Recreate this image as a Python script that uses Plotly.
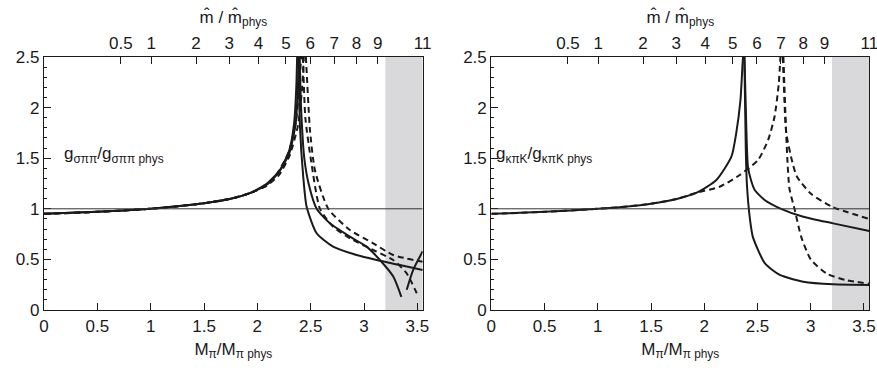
import plotly.graph_objects as go

# ---------------- data ----------------
# common low-mass part (both panels)
common_x = [0.0, 0.5, 1.0, 1.25, 1.5, 1.75, 1.93]
sigma_common_y = [0.95, 0.97, 1.0, 1.025, 1.055, 1.1, 1.155]
kappa_common_y = [0.95, 0.97, 1.0, 1.02, 1.05, 1.1, 1.16]

# left panel: g_sigma pi pi
sA_left_x = [2.09, 2.21, 2.30, 2.345, 2.365, 2.375]
sA_left_y = [1.25, 1.38, 1.58, 1.85, 2.2, 2.6]
sA_right_x = [2.385, 2.40, 2.43, 2.462, 2.556, 2.71, 2.93, 3.118, 3.336, 3.55]
sA_right_y = [2.6, 1.8, 1.32, 1.02, 0.758, 0.626, 0.543, 0.494, 0.445, 0.395]

sB_left_x = [2.09, 2.20, 2.30, 2.36, 2.38, 2.39]
sB_left_y = [1.24, 1.36, 1.55, 1.85, 2.2, 2.6]
sB_right_x = [2.395, 2.41, 2.44, 2.48, 2.556, 2.68, 2.868, 3.024, 3.149, 3.274, 3.35]
sB_right_y = [2.6, 2.0, 1.5, 1.25, 1.0, 0.857, 0.725, 0.626, 0.494, 0.33, 0.13]

sC_x = [3.40, 3.46, 3.55]
sC_y = [0.2, 0.395, 0.58]

dA_left_x = [2.09, 2.18, 2.29, 2.36, 2.395, 2.415]
dA_left_y = [1.235, 1.34, 1.55, 1.85, 2.24, 2.6]
dA_right_x = [2.425, 2.45, 2.50, 2.587, 2.71, 2.868, 3.086, 3.274, 3.40, 3.51]
dA_right_y = [2.6, 1.9, 1.5, 1.0, 0.823, 0.708, 0.593, 0.494, 0.362, 0.13]

dB_left_x = [2.09, 2.20, 2.30, 2.38, 2.42, 2.44]
dB_left_y = [1.23, 1.33, 1.52, 1.82, 2.2, 2.6]
dB_right_x = [2.45, 2.48, 2.493, 2.54, 2.665, 2.868, 3.086, 3.274, 3.55]
dB_right_y = [2.6, 2.0, 1.78, 1.38, 1.0, 0.79, 0.659, 0.543, 0.477]

# right panel: g_kappa pi K
ks_left_x = [2.114, 2.255, 2.30, 2.34, 2.358, 2.37]
ks_left_y = [1.285, 1.515, 1.746, 2.075, 2.4, 2.6]
ks_low_x = [2.375, 2.39, 2.40, 2.43, 2.457, 2.57, 2.71, 2.93, 3.21, 3.55]
ks_low_y = [2.6, 1.6, 1.25, 0.89, 0.72, 0.46, 0.346, 0.28, 0.254, 0.247]
ks_up_x = [2.375, 2.395, 2.41, 2.44, 2.474, 2.567, 2.71, 2.93, 3.21, 3.55]
ks_up_y = [2.6, 1.8, 1.42, 1.28, 1.186, 1.087, 1.005, 0.922, 0.856, 0.78]

kd_left_x = [2.145, 2.333, 2.505, 2.60, 2.66, 2.70, 2.72]
kd_left_y = [1.218, 1.334, 1.482, 1.68, 1.91, 2.24, 2.6]
kd_up_x = [2.735, 2.745, 2.77, 2.83, 2.87, 3.0, 3.2, 3.55]
kd_up_y = [2.6, 2.3, 1.75, 1.45, 1.32, 1.15, 1.02, 0.9]
kd_low_x = [2.74, 2.76, 2.78, 2.80, 2.85, 2.91, 3.0, 3.15, 3.33, 3.55]
kd_low_y = [2.6, 2.0, 1.5, 1.2, 0.99, 0.725, 0.5, 0.36, 0.296, 0.26]

# axes
x_ticks = [0, 0.5, 1, 1.5, 2, 2.5, 3, 3.5]
y_ticks = [0, 0.5, 1, 1.5, 2, 2.5]
top_tick_pos = [0.72, 1.005, 1.425, 1.737, 2.01, 2.268, 2.495, 2.72, 2.93, 3.128, 3.55]
top_tick_text = ["0.5", "1", "2", "3", "4", "5", "6", "7", "8", "9", "11"]
shade_from = 3.2
x_max = 3.55
y_max = 2.5

FONT = "Liberation Sans, Arial, sans-serif"
INK = "#1a1a1a"
FS = 17
DASH = "6px,4px"

fig = go.Figure()

def add(xs, ys, dash, xa, ya):
    fig.add_trace(go.Scatter(x=xs, y=ys, mode="lines", xaxis=xa, yaxis=ya,
                             line=dict(color=INK, width=2, dash=dash, shape="spline", smoothing=0.6),
                             showlegend=False, hoverinfo="skip", connectgaps=False))

# left panel
for lx, ly, rx, ry, dash in [
    (sA_left_x, sA_left_y, sA_right_x, sA_right_y, "solid"),
    (sB_left_x, sB_left_y, sB_right_x, sB_right_y, "solid"),
    (dA_left_x, dA_left_y, dA_right_x, dA_right_y, DASH),
    (dB_left_x, dB_left_y, dB_right_x, dB_right_y, DASH),
]:
    add(common_x + lx, sigma_common_y + ly, dash, "x", "y")
    add(rx, ry, dash, "x", "y")
add(sC_x, sC_y, "solid", "x", "y")

# right panel
add(common_x + ks_left_x, kappa_common_y + ks_left_y, "solid", "x2", "y2")
add(ks_low_x, ks_low_y, "solid", "x2", "y2")
add(ks_up_x, ks_up_y, "solid", "x2", "y2")
add(common_x + kd_left_x, kappa_common_y + kd_left_y, DASH, "x2", "y2")
add(kd_up_x, kd_up_y, DASH, "x2", "y2")
add(kd_low_x, kd_low_y, DASH, "x2", "y2")

# dummy traces so top axes render
fig.add_trace(go.Scatter(x=[0], y=[0], xaxis="x3", yaxis="y", mode="markers",
                         marker=dict(opacity=0), showlegend=False, hoverinfo="skip"))
fig.add_trace(go.Scatter(x=[0], y=[0], xaxis="x4", yaxis="y2", mode="markers",
                         marker=dict(opacity=0), showlegend=False, hoverinfo="skip"))

W, H = 877, 376
L1, R1 = 44 / W, 422.7 / W
L2, R2 = 491.3 / W, 869.3 / W
B, T = (H - 310) / H, (H - 57) / H

tickfont = dict(family=FONT, size=FS, color=INK)

def xax(dom, anchor):
    return dict(domain=dom, anchor=anchor, range=[0, x_max], tickvals=x_ticks,
                ticktext=[("%g" % v) for v in x_ticks], automargin=False,
                ticks="inside", ticklen=7, tickwidth=1, tickcolor=INK,
                showline=True, linecolor=INK, linewidth=1.2, showgrid=False, zeroline=False,
                tickfont=tickfont, ticklabeloverflow="allow",
                title=dict(text="M<sub>π</sub>/M<sub>π phys</sub>", font=dict(family=FONT, size=FS, color=INK), standoff=8))

def yax(dom, anchor):
    return dict(domain=dom, anchor=anchor, range=[0, y_max], tickvals=y_ticks,
                ticktext=[("%g" % v) for v in y_ticks], automargin=False,
                ticks="inside", ticklen=7, tickwidth=1, tickcolor=INK,
                minor=dict(ticks="inside", dtick=0.1, ticklen=3, tickcolor=INK, tickwidth=1),
                showline=True, linecolor=INK, linewidth=1.2, mirror=True, showgrid=False, zeroline=False,
                tickfont=tickfont)

def topax(overlay, anchor):
    return dict(overlaying=overlay, anchor=anchor, side="top", range=[0, x_max],
                tickvals=top_tick_pos, ticktext=top_tick_text, automargin=False,
                ticks="inside", ticklen=7, tickwidth=1, tickcolor=INK,
                showline=True, linecolor=INK, linewidth=1.2, showgrid=False, zeroline=False,
                tickfont=tickfont, ticklabeloverflow="allow",
                title=dict(text="m\u0302 / m\u0302<sub>phys</sub>", font=dict(family=FONT, size=FS, color=INK), standoff=6))

fig.update_layout(
    width=W, height=H, margin=dict(l=0, r=0, t=0, b=0, autoexpand=False),
    paper_bgcolor="white", plot_bgcolor="white",
    font=dict(family=FONT, color=INK),
    xaxis=xax([L1, R1], "y"), yaxis=yax([B, T], "x"),
    xaxis2=xax([L2, R2], "y2"), yaxis2=yax([B, T], "x2"),
    xaxis3=topax("x", "y"), xaxis4=topax("x2", "y2"),
)

shapes = []
for xr, yr in [("x", "y"), ("x2", "y2")]:
    shapes.append(dict(type="rect", xref=xr, yref=yr, x0=shade_from, x1=x_max, y0=0, y1=y_max,
                       fillcolor="#d9d9db", line=dict(width=0), layer="below"))
    shapes.append(dict(type="line", xref=xr, yref=yr, x0=0, x1=x_max, y0=1, y1=1,
                       line=dict(color="#333333", width=1)))
fig.update_layout(shapes=shapes)

fig.add_annotation(xref="x", yref="y", x=0.17, y=1.53, xanchor="left", yanchor="middle",
                   text="g<sub>σππ</sub>/g<sub>σππ phys</sub>", showarrow=False,
                   font=dict(family=FONT, size=FS, color=INK))
fig.add_annotation(xref="x2", yref="y2", x=0.03, y=1.53, xanchor="left", yanchor="middle",
                   text="g<sub>κπK</sub>/g<sub>κπK phys</sub>", showarrow=False,
                   font=dict(family=FONT, size=FS, color=INK))

fig.write_html("out.html", config={"displayModeBar": False},
               post_script="document.body.style.margin='0px';document.body.style.overflow='hidden';")
